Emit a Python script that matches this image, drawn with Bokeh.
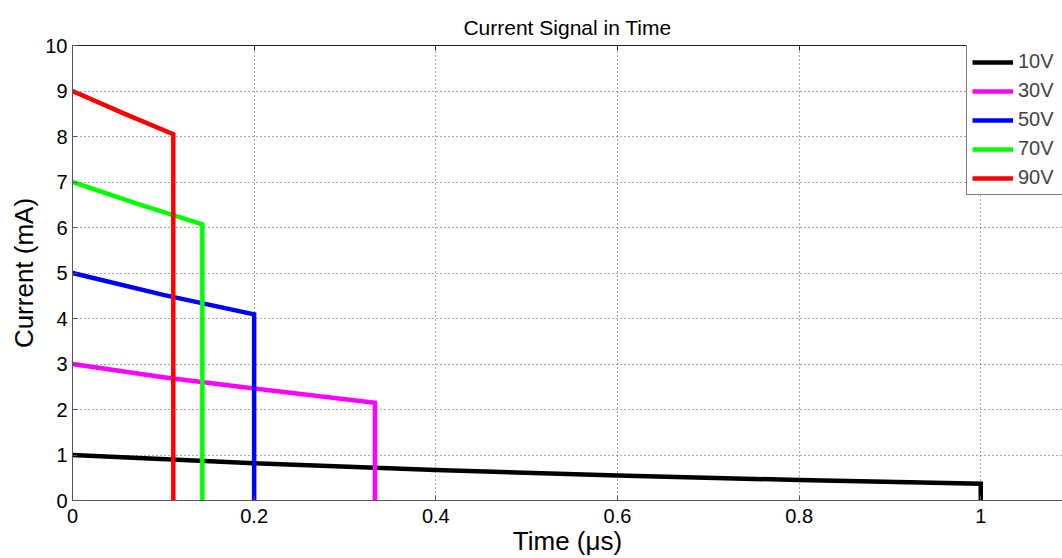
from bokeh.plotting import figure
from bokeh.models import LinearAxis, FixedTicker, Legend, LegendItem, Range1d
from bokeh.embed import file_html
from bokeh.resources import INLINE

# ---- data ----
t10 = [0.0, 0.2, 0.4, 0.6, 0.8, 1.0, 1.0]
i10 = [1.0, 0.82, 0.67, 0.55, 0.45, 0.37, 0.0]
t30 = [0.0, 0.1, 0.2, 0.333, 0.333]
i30 = [3.0, 2.71, 2.46, 2.15, 0.0]
t50 = [0.0, 0.1, 0.2, 0.2]
i50 = [5.0, 4.52, 4.09, 0.0]
t70 = [0.0, 0.07, 0.143, 0.143]
i70 = [7.0, 6.53, 6.07, 0.0]
t90 = [0.0, 0.055, 0.111, 0.111]
i90 = [9.0, 8.52, 8.05, 0.0]

series_names = ["10V", "30V", "50V", "70V", "90V"]
series_colors = ["#000000", "#ff00ff", "#0000ff", "#00ff00", "#ff0000"]
series_t = [t10, t30, t50, t70, t90]
series_i = [i10, i30, i50, i70, i90]

x_ticks = [0, 0.2, 0.4, 0.6, 0.8, 1.0]
x_tick_labels = ["0", "0.2", "0.4", "0.6", "0.8", "1"]
y_ticks = [0, 1, 2, 3, 4, 5, 6, 7, 8, 9, 10]

FONT = "Liberation Sans"

p = figure(width=1062, height=558, output_backend="svg", toolbar_location=None,
           x_range=Range1d(0, 1.09), y_range=Range1d(0, 10),
           title="Current Signal in Time",
           min_border_left=72, min_border_right=0, min_border_top=45, min_border_bottom=57)

p.title.align = "center"
p.title.text_font = FONT
p.title.text_font_size = "21px"
p.title.text_font_style = "normal"
p.title.text_color = "#000000"
p.title.standoff = 14
p.outline_line_color = None
p.background_fill_color = "white"
p.border_fill_color = "white"

renderers = []
for t, i, c in zip(series_t, series_i, series_colors):
    r = p.line(t, i, line_color=c, line_width=4.5, line_join="miter")
    renderers.append(r)

# axes
for ax in [p.xaxis[0], p.yaxis[0]]:
    ax.axis_line_color = "#555555"
    ax.major_tick_line_color = "#555555"
    ax.major_tick_in = 5
    ax.major_tick_out = 0
    ax.minor_tick_line_color = None
    ax.major_label_text_font = FONT
    ax.major_label_text_font_size = "20px"
    ax.major_label_text_color = "#000000"
    ax.axis_label_text_font = FONT
    ax.axis_label_text_font_size = "26px"
    ax.axis_label_text_font_style = "normal"
    ax.axis_label_text_color = "#000000"

p.xaxis.ticker = FixedTicker(ticks=x_ticks)
p.xaxis.major_label_overrides = {tk: lb for tk, lb in zip(x_ticks, x_tick_labels)}
p.xaxis.axis_label = "Time (\u03bcs)"
p.xaxis.major_label_standoff = 8
p.xaxis.axis_label_standoff = 0

p.yaxis.ticker = FixedTicker(ticks=y_ticks)
p.yaxis.axis_label = "Current (mA)"
p.yaxis.major_label_standoff = 5
p.yaxis.axis_label_standoff = 3

top = LinearAxis(ticker=FixedTicker(ticks=x_ticks))
top.axis_line_color = "#222222"
top.major_tick_line_color = "#222222"
top.major_tick_in = 5
top.major_tick_out = 0
top.minor_tick_line_color = None
top.major_label_overrides = {tk: "" for tk in x_ticks}
top.major_label_standoff = 0
p.add_layout(top, "above")

# grid
for g in [p.xgrid[0], p.ygrid[0]]:
    g.grid_line_color = "#555555"
    g.grid_line_dash = "1 3"
    g.grid_line_width = 1
p.xgrid.ticker = FixedTicker(ticks=x_ticks)
p.ygrid.ticker = FixedTicker(ticks=y_ticks)

legend = Legend(items=[LegendItem(label=n, renderers=[r]) for n, r in zip(series_names, renderers)],
                location=(894, 305))
legend.label_text_font = FONT
legend.label_text_font_size = "20px"
legend.glyph_width = 41
legend.glyph_height = 20
legend.label_height = 20
legend.label_width = 50
legend.label_standoff = 5
legend.spacing = 6
legend.padding = 5
legend.margin = 0
legend.border_line_color = "#000000"
legend.border_line_width = 1
legend.background_fill_alpha = 1
p.add_layout(legend, "center")

open("out.html", "w").write(file_html(p, INLINE))
